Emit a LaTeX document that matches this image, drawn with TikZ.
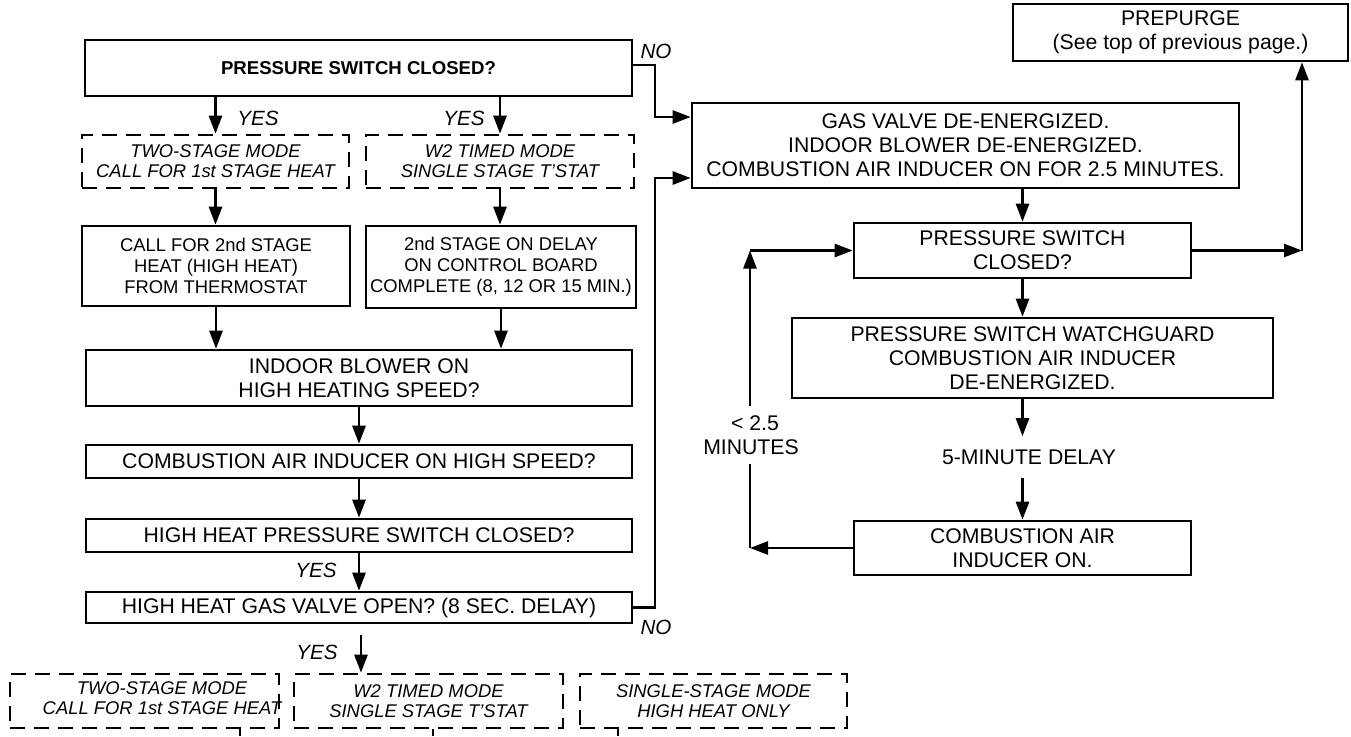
\documentclass[tikz,border=0pt]{standalone}
\usepackage{fontspec}
\setmainfont{Liberation Sans}
\usetikzlibrary{arrows.meta,calc}
\newcommand{\myfs}[2]{\fontsize{#1}{#2}\selectfont}
\begin{document}
\begin{tikzpicture}[x=0.5pt,y=-0.5pt,
  box/.style={draw, line width=1.3pt, inner sep=0pt, align=center, font=\myfs{10.6}{12}},
  sbox/.style={box, font=\myfs{9.2}{10.5}},
  dbox/.style={box, dash pattern=on 7.5pt off 4.5pt, font=\itshape\myfs{9.2}{10}},
  dtext/.style={inner sep=0pt, align=center, font=\itshape\myfs{9.2}{10}},
  lbl/.style={inner sep=0pt, font=\itshape\myfs{10.3}{12}},
  plain/.style={inner xsep=0pt, align=center, font=\myfs{10.6}{12}},
  ln/.style={line width=1.3pt},
  arr/.style={line width=1.3pt, -{Triangle[length=9pt,width=6.5pt]}}]
\useasboundingbox (0,0) rectangle (1351,736);
% left column
\node[box, minimum width=273.5pt, minimum height=28pt, font=\bfseries\myfs{9.3}{11}] (ps1) at (358.5,68) {PRESSURE SWITCH CLOSED?};
\node[dbox, minimum width=133.5pt, minimum height=26.5pt] (d1) at (215.5,161.5) {TWO-STAGE MODE\\CALL FOR 1st STAGE HEAT};
\node[dbox, minimum width=134pt, minimum height=26.5pt] (d2) at (500,161.5) {W2 TIMED MODE\\SINGLE STAGE T'STAT};
\node[sbox, minimum width=134pt, minimum height=40pt] (b1) at (216,266) {CALL FOR 2nd STAGE\\HEAT (HIGH HEAT)\\FROM THERMOSTAT};
\node[sbox, minimum width=135pt, minimum height=41pt] (b2) at (501,267) {2nd STAGE ON DELAY\\ON CONTROL BOARD\\COMPLETE (8, 12 OR 15 MIN.)};
\node[box, minimum width=273pt, minimum height=28pt] (ib) at (359,378) {INDOOR BLOWER ON\\HIGH HEATING SPEED?};
\node[box, minimum width=273pt, minimum height=16.5pt] (cai) at (359,461.5) {COMBUSTION AIR INDUCER ON HIGH SPEED?};
\node[box, minimum width=273pt, minimum height=16.5pt] (hhps) at (359,535.5) {HIGH HEAT PRESSURE SWITCH CLOSED?};
\node[box, minimum width=273pt, minimum height=15.5pt] (hhgv) at (359,607.5) {HIGH HEAT GAS VALVE OPEN? (8 SEC. DELAY)};
\node[dbox, minimum width=134.5pt, minimum height=27pt] (d3) at (144.5,701) {};
\node[dtext] (d3t) at (162,698) {TWO-STAGE MODE\\CALL FOR 1st STAGE HEAT};
\node[dbox, minimum width=134.5pt, minimum height=27pt] (d4) at (428.5,701) {W2 TIMED MODE\\SINGLE STAGE T'STAT};
\node[dbox, minimum width=133.5pt, minimum height=27pt] (d5) at (713.5,701) {SINGLE-STAGE MODE\\HIGH HEAT ONLY};
% right column
\node[box, minimum width=273.5pt, minimum height=42.5pt] (gas) at (965.5,145.5) {GAS VALVE DE-ENERGIZED.\\INDOOR BLOWER DE-ENERGIZED.\\COMBUSTION AIR INDUCER ON FOR 2.5 MINUTES.};
\node[box, minimum width=167.5pt, minimum height=28.5pt] (pre) at (1180.5,32.5) {PREPURGE\\(See top of previous page.)};
\node[box, minimum width=168.5pt, minimum height=27.5pt] (ps2) at (1022.5,250.5) {PRESSURE SWITCH\\CLOSED?};
\node[box, minimum width=240.5pt, minimum height=40pt] (wg) at (1032.5,358) {PRESSURE SWITCH WATCHGUARD\\COMBUSTION AIR INDUCER\\DE-ENERGIZED.};
\node[plain, inner ysep=6.5pt] (delay) at (1029,457) {5-MINUTE DELAY};
\node[box, minimum width=168.5pt, minimum height=27pt] (caion) at (1022.5,548) {COMBUSTION AIR\\INDUCER ON.};
\node[plain, inner ysep=4.5pt] (lt) at (751,435) {\hspace*{4pt}< 2.5\\MINUTES};
% labels
\node[lbl] (y1) at (258,118) {YES};
\node[lbl] (y2) at (464,118) {YES};
\node[lbl] (y3) at (316,570) {YES};
\node[lbl] (y4) at (317,652) {YES};
\node[lbl] (n1l) at (656,51) {NO};
\node[lbl] (n2l) at (656,627) {NO};
% coordinates
\coordinate (nx) at (655,0);
\coordinate (n1) at (632,65);
\coordinate (g1) at (692,117);
\coordinate (g2) at (692,178);
\coordinate (ys) at (361,635);
\coordinate (lx) at (750,0);
\coordinate (rx) at (1302,0);
\coordinate (e3) at (240,736);
\coordinate (e4) at (433,736);
\coordinate (e5) at (618,736);
% left connectors
\draw[arr] (d1.north |- ps1.south) -- (d1.north);
\draw[arr] (d2.north |- ps1.south) -- (d2.north);
\draw[arr] (d1.south) -- (d1.south |- b1.north);
\draw[arr] (d2.south) -- (d2.south |- b2.north);
\draw[arr] (b1.south) -- (b1.south |- ib.north);
\draw[arr] (b2.south) -- (b2.south |- ib.north);
\draw[arr] (ib.south) -- (cai.north);
\draw[arr] (cai.south) -- (hhps.north);
\draw[arr] (hhps.south) -- (hhgv.north);
\draw[arr] (ys) -- (ys |- d4.north);
\draw[arr] (ps1.east |- n1) -- (nx |- n1) -- (nx |- g1) -- (gas.west |- g1);
\draw[arr] (hhgv.east) -- (hhgv.east -| nx) -- (nx |- g2) -- (gas.west |- g2);
\draw[ln] (d3.south -| e3) -- (e3);
\draw[ln] (d4.south -| e4) -- (e4);
\draw[ln] (d5.south -| e5) -- (e5);
% right connectors
\draw[arr] (gas.south -| ps2.north) -- (ps2.north);
\draw[arr] (ps2.south) -- (ps2.south |- wg.north);
\draw[arr] (wg.south -| ps2.south) -- (delay.north -| ps2.south);
\draw[arr] (delay.south -| ps2.south) -- (caion.north);
\draw[arr] (caion.west) -- (caion.west -| lx);
\draw[ln] (caion.west -| lx) -- (lt.south -| lx);
\draw[arr] (lt.north -| lx) -- (ps2.west -| lx);
\draw[arr] (ps2.west -| lx) -- (ps2.west);
\draw[arr] (ps2.east) -- (ps2.east -| rx);
\draw[arr] (ps2.east -| rx) -- (pre.south -| rx);
\end{tikzpicture}
\end{document}
